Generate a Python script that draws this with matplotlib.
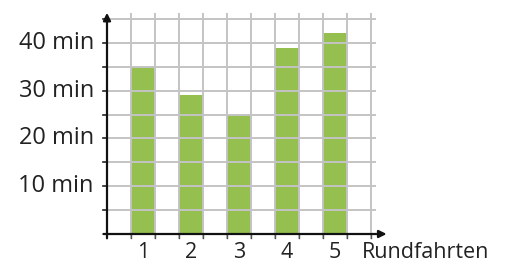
import numpy as np
import matplotlib.pyplot as plt

plt.rcParams['font.family'] = ['Open Sans', 'DejaVu Sans']

rounds = [1, 2, 3, 4, 5]
minutes = [35, 29, 25, 39, 42]
ylabels = ['10 min', '20 min', '30 min', '40 min']
yticks = [10, 20, 30, 40]

W, H = 505, 263
fig = plt.figure(figsize=(W / 100, H / 100), dpi=100)
# axes placed in pixels: x 0..11 cells -> 107..371 px, y 0..45 min -> 234..19 px
ax = fig.add_axes([107 / W, (H - 234) / H, 264 / W, 215 / H])
ax.set_xlim(0, 11)
ax.set_ylim(0, 45)
ax.axis('off')

green = '#95bf4e'
grid = '#c4c4c4'

# bars: each round spans two cells, bar in the first
xpos = [2 * r - 0.5 for r in rounds]
ax.bar(xpos, minutes, width=1.0, color=green, zorder=1)

# grid
for gx in range(1, 12):
    ax.plot([gx, gx], [-0.9, 46], color=grid, lw=1.4, zorder=2, clip_on=False)
for gy in range(5, 50, 5):
    ax.plot([0, 11.15], [gy, gy], color=grid, lw=1.4, zorder=2, clip_on=False)
    ax.plot([-0.15, 0], [gy, gy], color='#222222', lw=1.2, zorder=3, clip_on=False)
for gx in range(1, 12):
    ax.plot([gx, gx], [-0.9, 0], color='#555555', lw=1.0, zorder=3, clip_on=False)

# axes arrows
ax.annotate('', xy=(11.65, 0), xytext=(-0.15, 0),
            arrowprops=dict(arrowstyle='-|>', color='#111111', lw=1.6,
                            mutation_scale=11, shrinkA=0, shrinkB=0),
            annotation_clip=False, zorder=4)
ax.annotate('', xy=(0, 46.3), xytext=(0, -0.9),
            arrowprops=dict(arrowstyle='-|>', color='#111111', lw=1.6,
                            mutation_scale=11, shrinkA=0, shrinkB=0),
            annotation_clip=False, zorder=4)

fs = 17
for yv, lab in zip(yticks, ylabels):
    ax.text(-0.55, yv, lab, ha='right', va='center', fontsize=fs,
            color='#222222', clip_on=False)
for r, xv in zip(rounds, xpos):
    ax.text(xv, -3.9, str(r), ha='center', va='center', fontsize=15.5,
            color='#222222', clip_on=False)
ax.text(10.6, -3.9, 'Rundfahrten', ha='left', va='center', fontsize=15.5,
        color='#222222', clip_on=False)

fig.savefig('out.png', dpi=100)
